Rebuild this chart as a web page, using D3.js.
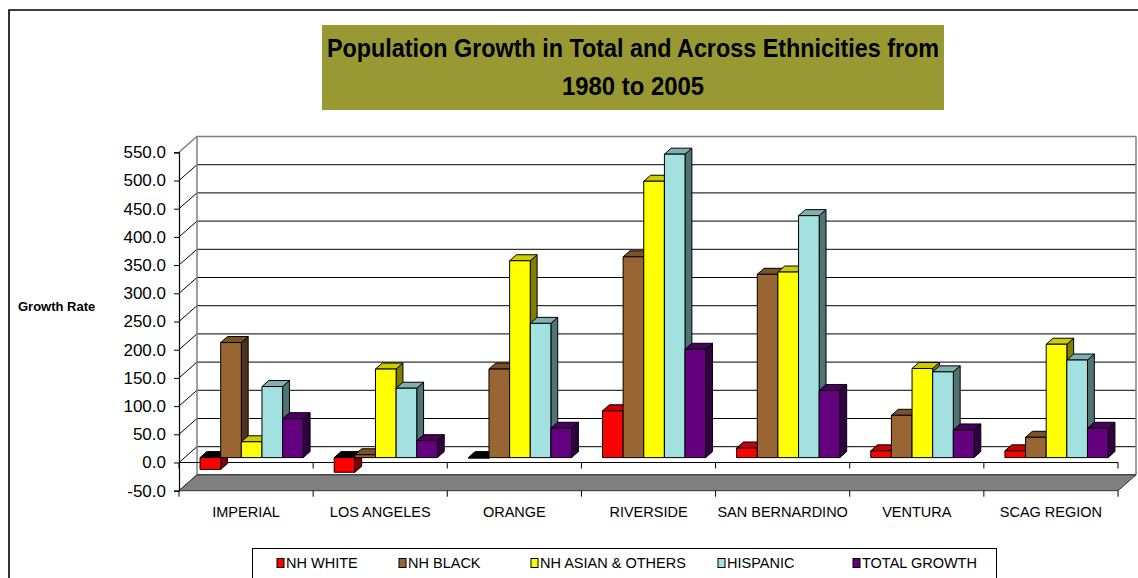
<!DOCTYPE html>
<html>
<head>
<meta charset="utf-8">
<script src="https://cdn.jsdelivr.net/npm/d3@7"></script>
<style>
  html, body { margin: 0; padding: 0; background: #fff; }
  svg { display: block; font-family: "Liberation Sans", Arial, sans-serif; }
</style>
</head>
<body>
<svg id="chart" width="1138" height="578"></svg>
<script>
// ---- data ----
const categories = ["IMPERIAL", "LOS ANGELES", "ORANGE", "RIVERSIDE", "SAN BERNARDINO", "VENTURA", "SCAG REGION"];
const seriesNames = ["NH WHITE", "NH BLACK", "NH ASIAN & OTHERS", "HISPANIC", "TOTAL GROWTH"];
const nhWhite     = [-21, -26, -1, 83, 17, 12, 12];
const nhBlack     = [204, 5, 157, 356, 325, 75, 36];
const nhAsian     = [28, 157, 349, 490, 329, 158, 201];
const hispanic    = [126, 123, 238, 538, 429, 152, 173];
const totalGrowth = [69, 30, 52, 192, 119, 49, 52];
const yTickValues = [-50, 0, 50, 100, 150, 200, 250, 300, 350, 400, 450, 500, 550];
const yTickLabels = ["-50.0", "0.0", "50.0", "100.0", "150.0", "200.0", "250.0", "300.0", "350.0", "400.0", "450.0", "500.0", "550.0"];
const titleLines = ["Population Growth in Total and Across Ethnicities from", "1980 to 2005"];
const yAxisTitle = "Growth Rate";

const seriesValues = [nhWhite, nhBlack, nhAsian, hispanic, totalGrowth];

// face colours per series: front, top, right side
const frontColors = ["#FF0000", "#996633", "#FFFF00", "#A3E0E0", "#640080"];
const topColors   = ["#C80000", "#7A5229", "#CCCC00", "#7FB0B0", "#4A0060"];
const sideColors  = ["#800000", "#4D3319", "#808000", "#507373", "#300040"];

// ---- layout ----
const svg = d3.select("#chart");
const frontLeft = 179, frontRight = 1118;
const DX = 18, DY = 15.8;            // depth offset of the back wall
const barD0 = 0.31, barD1 = 0.69;    // depth span of the columns

const y = d3.scaleLinear().domain([-50, 550]).range([490.7, 152.3]);
const xCat = d3.scaleBand().domain(categories).range([frontLeft, frontRight]).padding(0);
const xSer = d3.scaleBand().domain(seriesNames).range([0, xCat.bandwidth()])
  .paddingInner(0).paddingOuter(0.75);

// project a point (front-plane x, value, depth fraction) to screen
const P = (x, v, d) => [x + d * DX, y(v) - d * DY];
const poly = pts => "M" + pts.map(p => p[0].toFixed(2) + "," + p[1].toFixed(2)).join("L") + "Z";

const yMin = y.domain()[0], yMax = y.domain()[1];

// outer chart frame
svg.append("path").attr("d", "M9,579 L9,10 L1140,10")
  .attr("fill", "none").attr("stroke", "#000").attr("stroke-width", 1.6);

// title box
svg.append("rect").attr("x", 322).attr("y", 25).attr("width", 622).attr("height", 85)
  .attr("fill", "#999933");
const titleWidths = [612, 142];
svg.selectAll("text.title").data(titleLines).join("text")
  .attr("class", "title")
  .attr("x", 633).attr("y", (d, i) => 57 + i * 38)
  .attr("text-anchor", "middle")
  .attr("font-size", 25).attr("font-weight", "bold").attr("fill", "#000")
  .attr("textLength", (d, i) => titleWidths[i]).attr("lengthAdjust", "spacingAndGlyphs")
  .text(d => d);

// back wall
const backWall = [P(frontLeft, yMax, 1), P(frontRight, yMax, 1), P(frontRight, yMin, 1), P(frontLeft, yMin, 1)];
svg.append("path").attr("d", poly(backWall)).attr("fill", "#fff").attr("stroke", "none");

// gridlines on back wall and left side wall
const grid = svg.append("g");
yTickValues.forEach(v => {
  const a = P(frontLeft, v, 0), b = P(frontLeft, v, 1), c = P(frontRight, v, 1);
  const edge = (v === yMax);
  grid.append("path").attr("d", `M${a[0]},${a[1]}L${b[0]},${b[1]}L${c[0]},${c[1]}`)
    .attr("fill", "none").attr("stroke", edge ? "#808080" : "#000").attr("stroke-width", edge ? 1.5 : 1);
});
// wall edges
{
  const a = P(frontLeft, yMax, 1), b = P(frontLeft, yMin, 1);
  grid.append("line").attr("x1", a[0]).attr("y1", a[1]).attr("x2", b[0]).attr("y2", b[1])
    .attr("stroke", "#808080").attr("stroke-width", 1.5);
  const c = P(frontRight, yMax, 1), e = P(frontRight, yMin, 1);
  grid.append("line").attr("x1", c[0]).attr("y1", c[1]).attr("x2", e[0]).attr("y2", e[1])
    .attr("stroke", "#808080").attr("stroke-width", 1.5);
}

// floor
const floor = [P(frontLeft, yMin, 0), P(frontRight, yMin, 0), P(frontRight, yMin, 1), P(frontLeft, yMin, 1)];
svg.append("path").attr("d", poly(floor)).attr("fill", "#808080").attr("stroke", "#333").attr("stroke-width", 1);

// category axis at zero, and boundary ticks
const catAxis = svg.append("g");
const z0 = P(frontLeft, 0, 0), z1 = P(frontRight, 0, 0);
catAxis.append("line").attr("x1", z0[0]).attr("y1", z0[1]).attr("x2", z1[0]).attr("y2", z1[1])
  .attr("stroke", "#000").attr("stroke-width", 1);
const bounds = categories.map(c => xCat(c)).concat([frontRight]);
bounds.forEach(bx => {
  [0, yMin].forEach(v => {
    const p = P(bx, v, 0);
    catAxis.append("line").attr("x1", p[0]).attr("y1", p[1]).attr("x2", p[0]).attr("y2", p[1] + 6)
      .attr("stroke", "#000").attr("stroke-width", 1);
  });
});

// value axis
const yAxisG = svg.append("g").attr("transform", `translate(${frontLeft},0)`)
  .call(d3.axisLeft(y).tickValues(yTickValues).tickSize(5).tickFormat((d, i) => yTickLabels[i]));
yAxisG.select(".domain").attr("stroke", "#000").attr("stroke-width", 1.2);
yAxisG.selectAll(".tick line").attr("stroke", "#000");
yAxisG.selectAll(".tick text")
  .attr("x", -13).attr("font-size", 17).attr("fill", "#000")
  .attr("font-family", "'Liberation Sans', Arial, sans-serif");

svg.append("text").attr("x", 18).attr("y", 311)
  .attr("font-size", 13).attr("font-weight", "bold").attr("fill", "#000")
  .text(yAxisTitle);

// columns
const bars = svg.append("g").attr("stroke", "#000").attr("stroke-width", 1).attr("stroke-linejoin", "round");
categories.forEach((cat, ci) => {
  seriesNames.forEach((ser, si) => {
    const v = seriesValues[si][ci];
    const x0 = xCat(cat) + xSer(ser), x1 = x0 + xSer.bandwidth();
    const top = Math.max(v, 0);
    const side = [P(x1, 0, barD0), P(x1, 0, barD1), P(x1, v, barD1), P(x1, v, barD0)];
    const topFace = [P(x0, top, barD0), P(x1, top, barD0), P(x1, top, barD1), P(x0, top, barD1)];
    const front = [P(x0, 0, barD0), P(x1, 0, barD0), P(x1, v, barD0), P(x0, v, barD0)];
    bars.append("path").attr("d", poly(side)).attr("fill", sideColors[si]);
    bars.append("path").attr("d", poly(topFace)).attr("fill", v < 0 ? "#000" : topColors[si]);
    bars.append("path").attr("d", poly(front)).attr("fill", frontColors[si]);
  });
});

// category labels
svg.selectAll("text.cat").data(categories).join("text")
  .attr("class", "cat")
  .attr("x", d => xCat(d) + xCat.bandwidth() / 2)
  .attr("y", 517)
  .attr("text-anchor", "middle").attr("font-size", 14.5).attr("fill", "#000")
  .text(d => d);

// legend
const legendX = [277, 399, 531, 718, 853];
const legend = svg.append("g");
legend.append("rect").attr("x", 252.5).attr("y", 548.5).attr("width", 744).attr("height", 40)
  .attr("fill", "#fff").attr("stroke", "#000").attr("stroke-width", 1);
seriesNames.forEach((name, i) => {
  legend.append("rect").attr("x", legendX[i]).attr("y", 558.5).attr("width", 7).attr("height", 9)
    .attr("fill", frontColors[i]).attr("stroke", "#000").attr("stroke-width", 1);
  legend.append("text").attr("x", legendX[i] + 9).attr("y", 568)
    .attr("font-size", 14.5).attr("fill", "#000").text(name);
});
</script>
</body>
</html>
